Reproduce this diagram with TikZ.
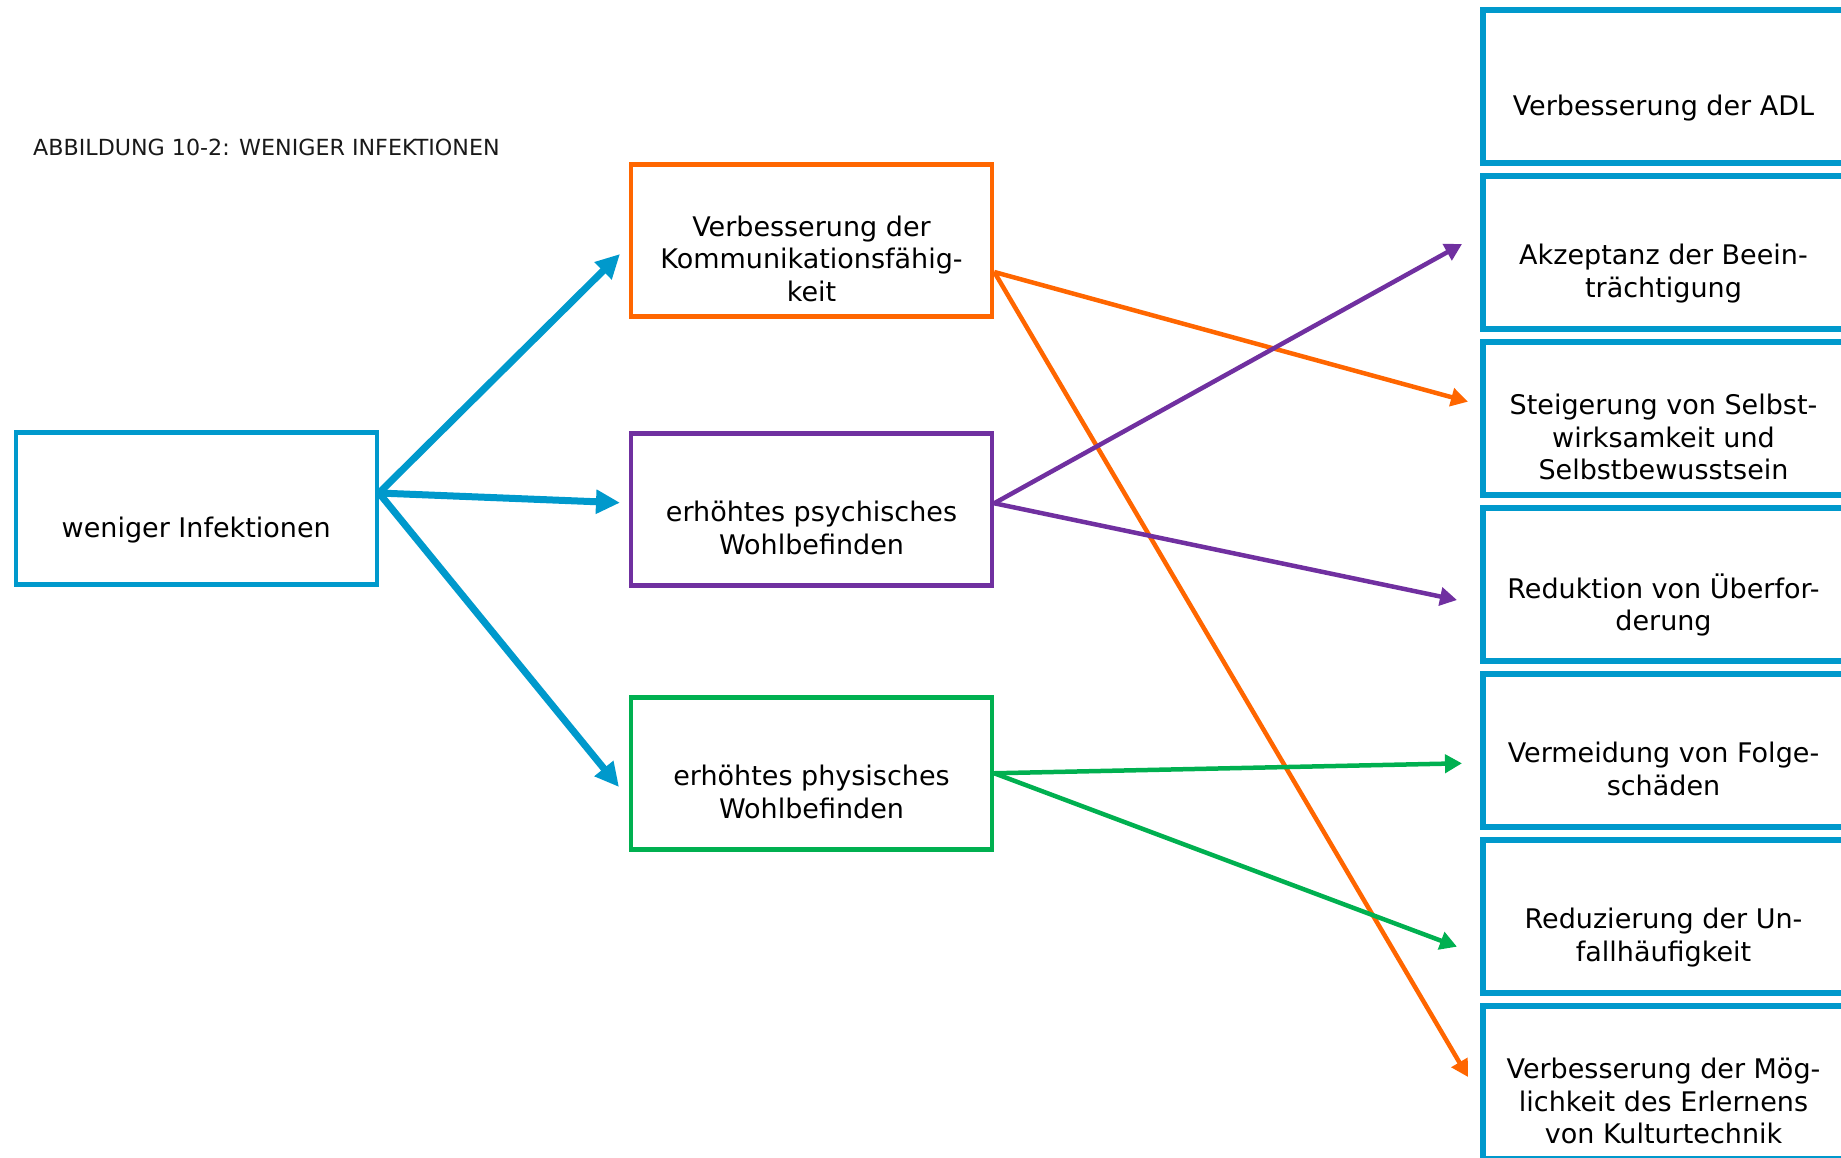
\documentclass[tikz,border=0pt]{standalone}
\usepackage{fontspec}
\setmainfont{DejaVu Sans}
\usetikzlibrary{arrows.meta}
\definecolor{iblue}{RGB}{0,153,204}
\definecolor{iorange}{RGB}{255,102,0}
\definecolor{ipurple}{RGB}{112,48,160}
\definecolor{igreen}{RGB}{0,176,80}
% uniform line height so every text block is centred the same way
\newcommand\linestrut{\rule[-7pt]{0pt}{29pt}}
\begin{document}
\begin{tikzpicture}[x=1pt,y=-1pt,
  box/.style={draw=#1, line width=4.5pt, minimum width=361pt, minimum height=152pt, inner sep=0pt},
  goalbox/.style={draw=iblue, line width=5.3pt, minimum width=361pt, minimum height=153pt, inner sep=0pt},
  boxtext/.style={font=\fontsize{27}{32.5}\selectfont, align=center, inner sep=0pt},
  bigarrow/.style={draw=iblue, line width=7pt, -{Triangle[length=24pt,width=23pt]}},
  thinarrow/.style={draw=#1, line width=4.5pt, -{Triangle[length=17pt,width=18pt]}}]
\useasboundingbox (0,0) rectangle (1841,1157);
\clip (0,0) rectangle (1841,1157);

% title
\node[anchor=base west, inner sep=0pt, font=\fontsize{22.2}{26}\selectfont, text=black!90] (title) at (33,155) {ABBILDUNG 10-2: WENIGER INFEKTIONEN};

% source and intermediate boxes
\node[box=iblue]   (inf)  at (196.25,508.5) {};
\node[box=iorange] (komm) at (811.5,240.25) {};
\node[box=ipurple] (psy)  at (811.5,509.25) {};
\node[box=igreen]  (phy)  at (811.5,773.25) {};

% outcome boxes
\node[goalbox] (adl)    at (1663.5,86.5) {};
\node[goalbox] (akz)    at (1663.5,252.5) {};
\node[goalbox] (selbst) at (1663.5,418.5) {};
\node[goalbox] (ueber)  at (1663.5,584.5) {};
\node[goalbox] (folge)  at (1663.5,750.5) {};
\node[goalbox] (unfall) at (1663.5,916.5) {};
\node[goalbox] (kultur) at (1663.5,1082.5) {};

% box texts
\node[boxtext] (inf-t)  at ([yshift=-21pt]inf.center)  {\linestrut weniger Infektionen};
\node[boxtext] (komm-t) at ([yshift=-21pt]komm.center) {\linestrut Verbesserung der\\\linestrut Kommunikationsfähig-\\\linestrut keit};
\node[boxtext] (psy-t)  at ([yshift=-21pt]psy.center)  {\linestrut erhöhtes psychisches\\\linestrut Wohlbefinden};
\node[boxtext] (phy-t)  at ([yshift=-21pt]phy.center)  {\linestrut erhöhtes physisches\\\linestrut Wohlbefinden};

\node[boxtext] (adl-t)    at ([yshift=-21pt]adl.center)    {\linestrut Verbesserung der ADL};
\node[boxtext] (akz-t)    at ([yshift=-21pt]akz.center)    {\linestrut Akzeptanz der Beein-\\\linestrut trächtigung};
\node[boxtext] (selbst-t) at ([yshift=-21pt]selbst.center) {\linestrut Steigerung von Selbst-\\\linestrut wirksamkeit und\\\linestrut Selbstbewusstsein};
\node[boxtext] (ueber-t)  at ([yshift=-21pt]ueber.center)  {\linestrut Reduktion von Überfor-\\\linestrut derung};
\node[boxtext] (folge-t)  at ([yshift=-21pt]folge.center)  {\linestrut Vermeidung von Folge-\\\linestrut schäden};
\node[boxtext] (unfall-t) at ([yshift=-21pt]unfall.center) {\linestrut Reduzierung der Un-\\\linestrut fallhäufigkeit};
\node[boxtext] (kultur-t) at ([yshift=-21pt]kultur.center) {\linestrut Verbesserung der Mög-\\\linestrut lichkeit des Erlernens\\\linestrut von Kulturtechnik};

% arrow tips
\coordinate (tkomm) at (620,254);
\coordinate (tpsy)  at (620,502.7);
\coordinate (tphy)  at (619,787);
\coordinate (tselbst) at (1468,401.7);
\coordinate (tkultur) at (1468,1077);
\coordinate (takz)    at (1462,244);
\coordinate (tueber)  at (1457,600);
\coordinate (tfolge)  at (1462,763.3);
\coordinate (tunfall) at (1457,946.7);

% connectors
\draw[bigarrow] ([yshift=15.5pt]inf.east) -- (tkomm);
\draw[bigarrow] ([yshift=15.5pt]inf.east) -- (tpsy);
\draw[bigarrow] ([yshift=15.5pt]inf.east) -- (tphy);

\draw[thinarrow=iorange] ([yshift=-31.75pt]komm.east) -- (tselbst);
\draw[thinarrow=iorange] ([yshift=-31.75pt]komm.east) -- (tkultur);

\draw[thinarrow=ipurple] ([yshift=6pt]psy.east) -- (takz);
\draw[thinarrow=ipurple] ([yshift=6pt]psy.east) -- (tueber);

\draw[thinarrow=igreen] (phy.east) -- (tfolge);
\draw[thinarrow=igreen] (phy.east) -- (tunfall);
\end{tikzpicture}
\end{document}
